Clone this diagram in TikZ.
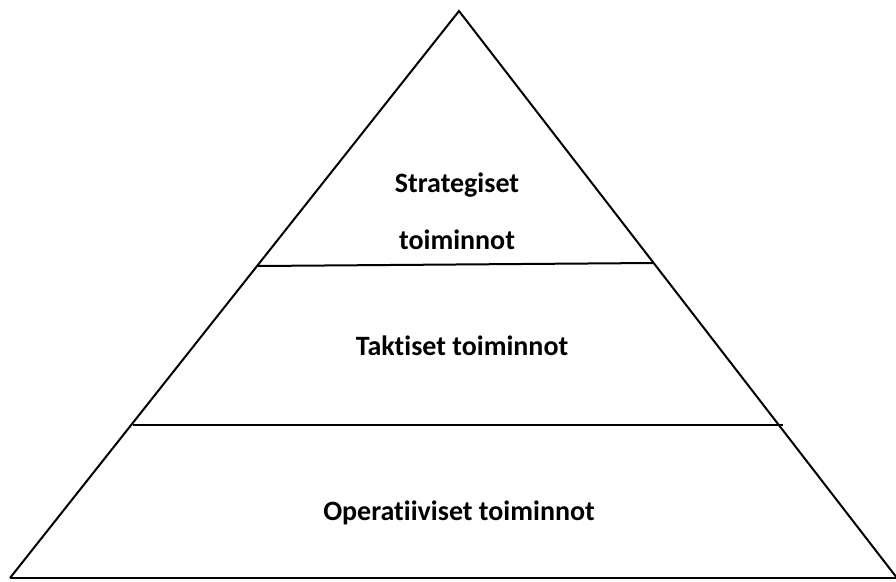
\documentclass[tikz,border=0pt]{standalone}
\usepackage{fontspec}
\setmainfont[Ligatures={NoCommon,NoRare},Contextuals=NoAlternate]{Carlito}
\begin{document}
\begin{tikzpicture}[x=1pt,y=-1pt,
  edge/.style={draw=black,line width=2pt,line join=miter},
  lbl/.style={font=\bfseries\fontsize{28}{32}\selectfont,align=center,inner sep=0pt}]
\useasboundingbox (0,0) rectangle (896,581);
\coordinate (apex) at (459,11);
\coordinate (bl) at (10,578);
\coordinate (br) at (897,578);
\coordinate (baseend) at (896,578);
\coordinate (l1a) at (258,266);
\coordinate (l1b) at (653,263);
\coordinate (l2a) at (133,425);
\coordinate (l2b) at (783,425);
\draw[edge] (bl) -- (apex) -- (br);
\draw[edge] (bl) -- (baseend);
\draw[edge] (l1a) -- (l1b);
\draw[edge] (l2a) -- (l2b);
\node[lbl] (s1) at (457,185) {Strategiset};
\node[lbl] (s2) at (457,240) {toiminnot};
\node[lbl] (t) at (462,346) {Taktiset toiminnot};
\node[lbl] (o) at (459,513) {Operatiiviset toiminnot};
\end{tikzpicture}
\end{document}
